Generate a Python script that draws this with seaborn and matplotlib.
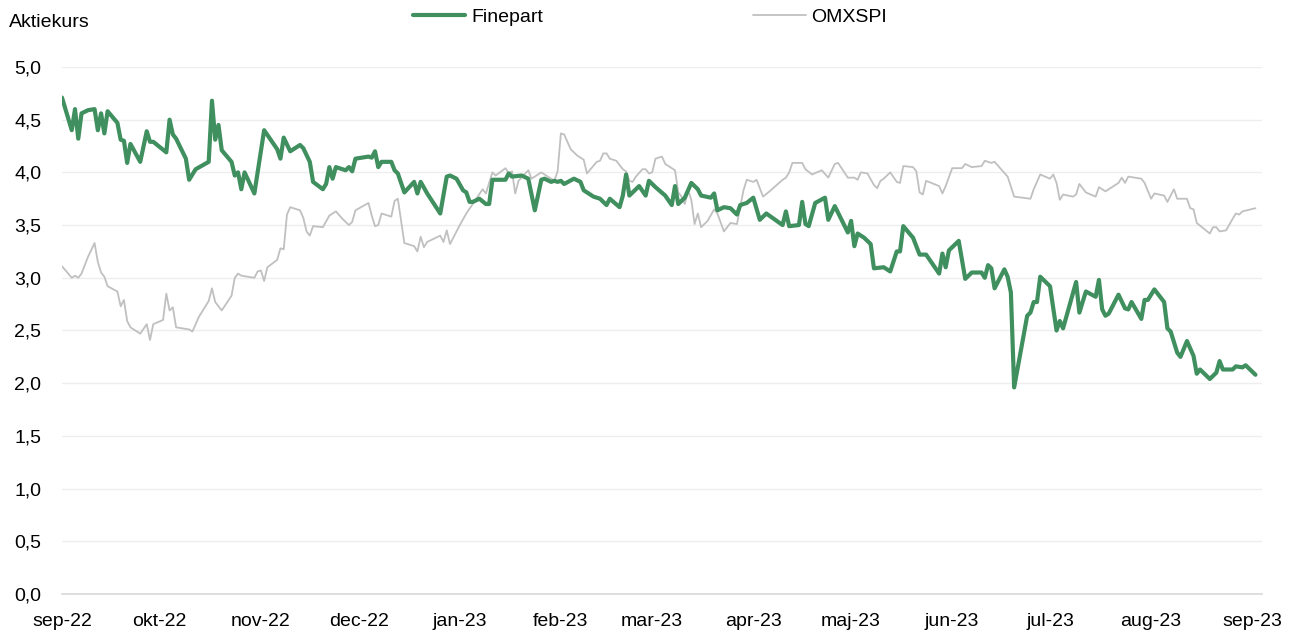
import numpy as np
import pandas as pd
import matplotlib as mpl
mpl.use("Agg")
import matplotlib.pyplot as plt
import matplotlib.ticker as mticker
import seaborn as sns

# days since 2022-09-01
fp_day = [0, 3, 4, 5, 6, 8, 10, 11, 12, 13, 14, 17, 18, 19, 20, 21, 24, 26, 27, 28,
          32, 33, 34, 35, 38, 39, 41, 45, 46, 47, 48, 49, 52, 53, 54, 55, 56, 59, 62, 66,
          67, 68, 70, 73, 74, 76, 77, 80, 81, 82, 83, 84, 87, 88, 89, 90, 94, 95, 96, 97,
          98, 101, 102, 103, 105, 108, 109, 110, 112, 116, 118, 119, 121, 123, 124, 125, 126, 128, 130, 131,
          132, 136, 137, 138, 141, 143, 145, 147, 148, 150, 151, 152, 153, 154, 157, 159, 160, 163, 165, 167,
          168, 171, 172, 173, 174, 177, 179, 180, 182, 185, 187, 188, 189, 190, 191, 193, 195, 196, 199, 200,
          201, 203, 205, 207, 208, 210, 212, 214, 216, 221, 222, 223, 226, 227, 228, 229, 231, 234, 235, 237,
          241, 242, 243, 244, 246, 248, 249, 252, 254, 256, 257, 258, 261, 263, 265, 269, 270, 271, 272, 275,
          277, 279, 282, 283, 284, 285, 286, 289, 290, 291, 292, 296, 297, 298, 299, 300, 303, 305, 306, 307,
          311, 312, 314, 317, 318, 319, 320, 321, 324, 326, 327, 328, 331, 332, 333, 335, 338, 339, 340, 342,
          343, 345, 347, 348, 349, 352, 354, 355, 356, 359, 360, 362, 363, 366]
fp_val = [4.71, 4.40, 4.60, 4.32, 4.56, 4.59, 4.60, 4.40, 4.56, 4.37, 4.58, 4.47, 4.31, 4.30, 4.09, 4.27, 4.10, 4.39, 4.29, 4.29,
          4.19, 4.50, 4.36, 4.32, 4.13, 3.93, 4.03, 4.10, 4.68, 4.31, 4.45, 4.21, 4.10, 3.97, 4.00, 3.84, 4.00, 3.80, 4.40, 4.22,
          4.13, 4.33, 4.20, 4.26, 4.23, 4.10, 3.91, 3.84, 3.89, 4.05, 3.94, 4.05, 4.02, 4.05, 4.01, 4.13, 4.15, 4.14, 4.20, 4.05,
          4.10, 4.10, 4.02, 3.99, 3.81, 3.91, 3.80, 3.91, 3.80, 3.61, 3.96, 3.97, 3.94, 3.83, 3.81, 3.72, 3.72, 3.75, 3.70, 3.70,
          3.93, 3.93, 3.99, 3.96, 3.97, 3.94, 3.64, 3.93, 3.94, 3.91, 3.92, 3.91, 3.92, 3.89, 3.94, 3.91, 3.83, 3.77, 3.75, 3.69,
          3.75, 3.67, 3.78, 3.98, 3.78, 3.87, 3.78, 3.92, 3.86, 3.78, 3.69, 3.87, 3.70, 3.73, 3.76, 3.90, 3.84, 3.78, 3.76, 3.80,
          3.64, 3.67, 3.66, 3.60, 3.69, 3.71, 3.76, 3.55, 3.61, 3.50, 3.63, 3.49, 3.50, 3.72, 3.51, 3.49, 3.71, 3.76, 3.55, 3.68,
          3.43, 3.54, 3.30, 3.42, 3.38, 3.32, 3.09, 3.10, 3.06, 3.25, 3.25, 3.49, 3.38, 3.22, 3.22, 3.04, 3.23, 3.10, 3.26, 3.35,
          2.99, 3.05, 3.05, 3.00, 3.12, 3.09, 2.90, 3.08, 3.01, 2.86, 1.96, 2.64, 2.67, 2.77, 2.77, 3.01, 2.92, 2.50, 2.59, 2.52,
          2.96, 2.67, 2.87, 2.82, 2.98, 2.70, 2.64, 2.66, 2.84, 2.71, 2.70, 2.77, 2.61, 2.79, 2.79, 2.89, 2.77, 2.52, 2.49, 2.29,
          2.25, 2.40, 2.26, 2.09, 2.13, 2.04, 2.10, 2.21, 2.13, 2.13, 2.16, 2.15, 2.17, 2.08]

omx_day = [0, 3, 4, 5, 6, 8, 10, 11, 12, 13, 14, 17, 18, 19, 20, 21, 24, 26, 27, 28,
           31, 32, 33, 34, 35, 39, 40, 42, 45, 46, 47, 49, 52, 53, 54, 55, 59, 60, 61, 62,
           63, 66, 67, 68, 69, 70, 73, 74, 75, 76, 77, 80, 82, 84, 86, 88, 89, 90, 94, 95,
           96, 97, 98, 101, 102, 103, 105, 107, 108, 109, 110, 111, 112, 116, 117, 118, 119, 122, 124, 129,
           130, 132, 133, 136, 137, 138, 139, 140, 143, 144, 147, 150, 151, 152, 153, 154, 156, 158, 160, 161,
           164, 165, 166, 167, 168, 170, 172, 173, 174, 175, 176, 178, 179, 180, 181, 182, 184, 185, 187, 188,
           189, 190, 191, 192, 193, 194, 195, 196, 198, 200, 201, 203, 205, 207, 209, 210, 212, 213, 215, 217,
           221, 222, 223, 224, 227, 228, 230, 233, 235, 237, 238, 241, 243, 244, 245, 247, 249, 250, 251, 252,
           254, 256, 257, 258, 261, 262, 263, 264, 265, 269, 270, 271, 273, 276, 277, 279, 282, 283, 285, 286,
           290, 292, 297, 298, 300, 303, 304, 305, 306, 307, 310, 311, 312, 314, 317, 318, 320, 323, 324, 325,
           326, 327, 331, 332, 334, 335, 338, 339, 341, 342, 345, 346, 347, 348, 350, 352, 353, 354, 355, 357,
           359, 360, 361, 362, 366]
omx_val = [3.11, 3.00, 3.02, 3.00, 3.04, 3.20, 3.33, 3.15, 3.05, 3.01, 2.92, 2.87, 2.73, 2.79, 2.59, 2.53, 2.47, 2.56, 2.41, 2.56,
           2.60, 2.85, 2.69, 2.72, 2.53, 2.51, 2.49, 2.63, 2.78, 2.90, 2.77, 2.69, 2.83, 3.00, 3.04, 3.02, 3.00, 3.06, 3.07, 2.97,
           3.10, 3.17, 3.28, 3.27, 3.60, 3.67, 3.64, 3.57, 3.44, 3.40, 3.49, 3.48, 3.59, 3.63, 3.56, 3.50, 3.53, 3.64, 3.71, 3.59,
           3.49, 3.50, 3.61, 3.58, 3.73, 3.75, 3.33, 3.31, 3.30, 3.25, 3.39, 3.29, 3.34, 3.40, 3.34, 3.45, 3.32, 3.50, 3.61, 3.84,
           3.80, 4.00, 3.97, 4.04, 3.99, 4.01, 3.80, 3.92, 4.02, 3.94, 4.00, 3.94, 3.92, 4.01, 4.37, 4.36, 4.22, 4.16, 4.12, 3.99,
           4.10, 4.11, 4.18, 4.18, 4.13, 4.11, 4.03, 4.01, 3.92, 3.91, 3.96, 4.03, 4.03, 3.99, 4.00, 4.13, 4.15, 4.08, 4.04, 4.02,
           3.81, 3.77, 3.70, 3.83, 3.74, 3.51, 3.61, 3.48, 3.54, 3.65, 3.61, 3.44, 3.52, 3.51, 3.83, 3.93, 3.91, 3.93, 3.77, 3.82,
           3.93, 3.95, 4.00, 4.09, 4.09, 4.03, 3.98, 4.02, 3.95, 4.08, 4.09, 3.95, 3.95, 3.93, 4.00, 3.99, 3.88, 3.85, 3.92, 3.94,
           4.00, 3.91, 3.90, 4.06, 4.05, 4.01, 3.81, 3.79, 3.92, 3.87, 3.80, 3.87, 4.04, 4.04, 4.08, 4.05, 4.06, 4.11, 4.09, 4.10,
           3.96, 3.77, 3.75, 3.84, 3.98, 3.94, 3.98, 3.90, 3.74, 3.79, 3.77, 3.79, 3.89, 3.81, 3.77, 3.86, 3.82, 3.88, 3.90, 3.95,
           3.90, 3.96, 3.94, 3.90, 3.75, 3.80, 3.78, 3.72, 3.84, 3.75, 3.75, 3.66, 3.65, 3.52, 3.47, 3.42, 3.48, 3.48, 3.44, 3.45,
           3.56, 3.61, 3.60, 3.63, 3.66]

month_labels = ["sep-22", "okt-22", "nov-22", "dec-22", "jan-23", "feb-23", "mar-23",
                "apr-23", "maj-23", "jun-23", "jul-23", "aug-23", "sep-23"]

start = pd.Timestamp("2022-09-01")
fp = pd.DataFrame({"date": start + pd.to_timedelta(fp_day, unit="D"), "kurs": fp_val})
omx = pd.DataFrame({"date": start + pd.to_timedelta(omx_day, unit="D"), "kurs": omx_val})

sns.set_style("white")
plt.rcParams["font.family"] = ["Liberation Sans", "DejaVu Sans"]
plt.rcParams["text.color"] = "black"
plt.rcParams["xtick.color"] = "black"
plt.rcParams["ytick.color"] = "black"

fig = plt.figure(figsize=(12.99, 6.36), dpi=100)
ax = fig.add_axes([0.0477, 0.066, 0.9238, 0.8287])

green = "#3f8f5f"
grey = "#c0c0c0"
sns.lineplot(data=omx, x="date", y="kurs", ax=ax, color=grey, lw=1.3, label="OMXSPI", zorder=2)
sns.lineplot(data=fp, x="date", y="kurs", ax=ax, color=green, lw=3.0, label="Finepart", zorder=3)

ax.set_ylim(0, 5)
ax.set_xlim(start, start + pd.Timedelta(days=368))
ax.set_yticks(np.arange(0, 5.01, 0.5))
ax.yaxis.set_major_formatter(mticker.FuncFormatter(lambda v, p: f"{v:.1f}".replace(".", ",")))
ticks = pd.date_range(start, periods=len(month_labels), freq="MS")
ax.set_xticks(ticks)
ax.set_xticklabels(month_labels)
ax.grid(axis="y", color="#eeeeee", lw=1)
ax.set_xlabel("")
ax.set_ylabel("")
for s in ["left", "right", "top"]:
    ax.spines[s].set_visible(False)
ax.spines["bottom"].set_color("#d9d9d9")
ax.spines["bottom"].set_linewidth(1.2)
ax.tick_params(axis="x", length=7, width=1.2, color="#d9d9d9", labelcolor="black", labelsize=14, pad=7)
ax.tick_params(axis="y", length=0, labelcolor="black", labelsize=14, pad=15)

handles, labels = ax.get_legend_handles_labels()
ax.legend(handles[::-1], labels[::-1], ncol=2, frameon=False, fontsize=14,
          loc="center", bbox_to_anchor=(0.49, 1.095), handlelength=2.7,
          columnspacing=10.8, handletextpad=0.3)

fig.text(0.007, 0.965, "Aktiekurs", fontsize=14, va="center", ha="left")

fig.savefig("out.png", dpi=100)
